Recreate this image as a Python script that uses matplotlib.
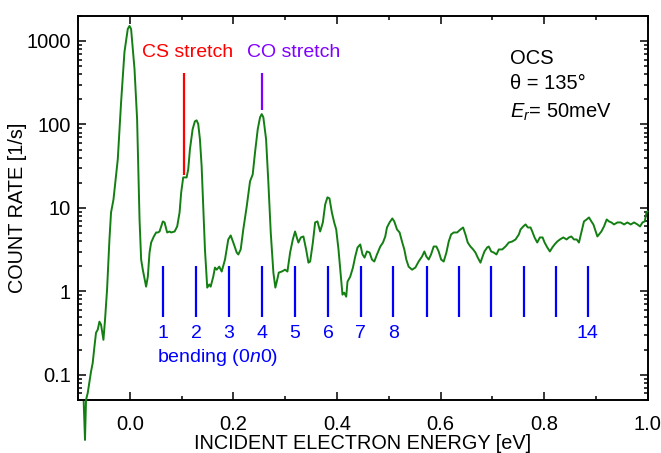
import matplotlib
matplotlib.use('Agg')
import matplotlib.pyplot as plt
import matplotlib.ticker as mticker
import numpy as np

plt.rcParams['font.family'] = ['Liberation Sans', 'DejaVu Sans']
plt.rcParams['mathtext.fontset'] = 'custom'
plt.rcParams['mathtext.rm'] = 'Liberation Sans'
plt.rcParams['mathtext.it'] = 'Liberation Sans:italic'

# spectrum: incident energy [eV], count rate [1/s]
energy = [
    -0.0890, -0.0865, -0.0845, -0.0812, -0.0779, -0.0749, -0.0716, -0.0683, -0.0652, -0.0619,
    -0.0586, -0.0555, -0.0509, -0.0478, -0.0439, -0.0393, -0.0362, -0.0315, -0.0232, -0.0168,
    -0.0103, -0.0039, -0.0006, 0.0025, 0.0091, 0.0141, 0.0188, 0.0219, 0.0251, 0.0315,
    0.0348, 0.0381, 0.0412, 0.0464, 0.0509, 0.0542, 0.0574, 0.0638, 0.0671, 0.0721,
    0.0768, 0.0799, 0.0865, 0.0915, 0.0961, 0.0992, 0.1031, 0.1097, 0.1128, 0.1161,
    0.1213, 0.1257, 0.1290, 0.1321, 0.1354, 0.1387, 0.1418, 0.1451, 0.1495, 0.1534,
    0.1561, 0.1611, 0.1644, 0.1677, 0.1727, 0.1774, 0.1838, 0.1901, 0.1948, 0.1998,
    0.2064, 0.2095, 0.2141, 0.2191, 0.2257, 0.2321, 0.2373, 0.2418, 0.2470, 0.2515,
    0.2547, 0.2578, 0.2631, 0.2675, 0.2721, 0.2772, 0.2810, 0.2838, 0.2876, 0.2934,
    0.2998, 0.3043, 0.3095, 0.3147, 0.3191, 0.3224, 0.3255, 0.3302, 0.3352, 0.3404,
    0.3449, 0.3482, 0.3534, 0.3578, 0.3623, 0.3675, 0.3727, 0.3772, 0.3816, 0.3855,
    0.3901, 0.3946, 0.3985, 0.4029, 0.4075, 0.4106, 0.4139, 0.4178, 0.4203, 0.4255,
    0.4308, 0.4352, 0.4397, 0.4449, 0.4493, 0.4532, 0.4578, 0.4629, 0.4675, 0.4720,
    0.4772, 0.4836, 0.4888, 0.4932, 0.4965, 0.5015, 0.5068, 0.5106, 0.5159, 0.5209,
    0.5255, 0.5300, 0.5338, 0.5383, 0.5449, 0.5513, 0.5576, 0.5642, 0.5687, 0.5725,
    0.5770, 0.5816, 0.5867, 0.5919, 0.5963, 0.6010, 0.6060, 0.6112, 0.6157, 0.6203,
    0.6253, 0.6319, 0.6383, 0.6435, 0.6480, 0.6524, 0.6576, 0.6629, 0.6673, 0.6718,
    0.6770, 0.6803, 0.6847, 0.6899, 0.6930, 0.6977, 0.7027, 0.7079, 0.7124, 0.7190,
    0.7253, 0.7317, 0.7383, 0.7447, 0.7511, 0.7544, 0.7596, 0.7640, 0.7685, 0.7737,
    0.7770, 0.7814, 0.7866, 0.7917, 0.7969, 0.8008, 0.8060, 0.8110, 0.8157, 0.8201,
    0.8253, 0.8304, 0.8369, 0.8433, 0.8478, 0.8524, 0.8575, 0.8627, 0.8671, 0.8718,
    0.8768, 0.8820, 0.8865, 0.8911, 0.8950, 0.8994, 0.9027, 0.9058, 0.9104, 0.9155,
    0.9207, 0.9251, 0.9298, 0.9348, 0.9414, 0.9478, 0.9542, 0.9607, 0.9671, 0.9735,
    0.9801, 0.9851, 0.9897, 0.9942, 0.9975, 0.9994,
]
count_rate = [
    0.0474, 0.0166, 0.0501, 0.0608, 0.0824, 0.109, 0.139, 0.217, 0.320, 0.348,
    0.434, 0.399, 0.263, 0.458, 1.05, 4.19, 8.83, 12.6, 38.3, 185,
    738, 1393, 1514, 1393, 461, 116, 7.28, 2.41, 1.82, 1.14,
    1.50, 2.92, 3.85, 4.55, 5.08, 5.08, 5.22, 6.89, 6.70, 5.08,
    5.22, 5.08, 5.22, 6.00, 8.83, 15.3, 23.2, 23.2, 29.0, 50.4,
    87.7, 109, 112, 101, 66.5, 31.5, 10.4, 3.18, 1.11, 1.21,
    1.14, 1.50, 1.93, 1.82, 1.98, 1.73, 2.41, 4.19, 4.68, 3.85,
    2.92, 2.77, 3.18, 5.52, 10.4, 20.8, 25.2, 46.4, 87.7, 122,
    133, 122, 66.5, 20.2, 5.08, 1.68, 1.11, 1.31, 1.68, 1.73,
    1.82, 1.73, 2.92, 4.19, 5.22, 4.43, 3.85, 4.43, 4.55, 3.18,
    2.21, 2.28, 3.85, 6.70, 6.89, 5.22, 6.70, 11.0, 13.4, 13.0,
    8.83, 6.70, 5.52, 3.18, 1.50, 0.914, 0.966, 0.865, 1.31, 1.50,
    1.93, 2.62, 3.36, 3.65, 2.77, 2.54, 3.01, 2.92, 2.41, 2.28,
    2.77, 3.45, 3.85, 4.55, 5.83, 6.70, 7.48, 6.89, 5.52, 5.08,
    3.96, 3.18, 2.41, 1.98, 1.82, 1.93, 2.28, 2.62, 3.01, 2.62,
    2.41, 2.77, 3.45, 3.45, 3.01, 2.41, 2.28, 2.92, 3.96, 4.81,
    5.08, 5.08, 5.52, 5.83, 4.81, 3.85, 3.45, 3.18, 2.92, 2.54,
    2.21, 2.54, 3.01, 3.36, 3.45, 3.01, 2.92, 2.77, 3.18, 3.18,
    3.45, 3.85, 3.96, 4.19, 4.81, 5.52, 6.00, 6.34, 5.83, 5.83,
    5.22, 4.43, 3.85, 4.43, 4.43, 3.85, 3.36, 3.01, 3.36, 3.65,
    3.96, 4.19, 4.43, 4.19, 4.43, 4.55, 4.19, 4.19, 3.85, 5.08,
    6.89, 7.28, 7.69, 6.89, 6.34, 5.22, 4.55, 4.81, 5.22, 6.00,
    7.28, 6.89, 6.70, 6.34, 6.70, 6.70, 6.34, 6.70, 6.34, 6.70,
    6.34, 6.00, 6.70, 6.89, 8.83, 9.08,
]

# bending progression (0n0)
bend_pos = [0.0638, 0.1277, 0.191, 0.255, 0.319, 0.383, 0.446, 0.509,
            0.573, 0.636, 0.698, 0.761, 0.822, 0.884]
bend_labels = ['1', '2', '3', '4', '5', '6', '7', '8', '', '', '', '', '', '14']

cs_pos = 0.1045
co_pos = 0.255

fig = plt.figure(figsize=(6.61, 4.53), dpi=100)
ax = fig.add_axes([0.118, 0.117, 0.862, 0.848])

ax.plot(energy, count_rate, color='#137f13', lw=1.4, clip_on=False, zorder=3)

ax.set_yscale('log')
ax.set_xlim(-0.1, 1.0)
ax.set_ylim(0.05, 2000)

# bending lines and labels
ax.vlines(bend_pos, 0.5, 2.0, color='#0000ff', lw=1.6)
for xp, lab in zip(bend_pos, bend_labels):
    ax.text(xp, 0.31, lab, color='#0000ff', fontsize=14, ha='center', va='center')
ax.text(0.052, 0.16, 'bending (0$n$0)', color='#0000ff', fontsize=14, ha='left', va='center')

# stretch markers
ax.vlines(cs_pos, 25, 410, color='#ff0000', lw=1.6)
ax.text(cs_pos + 0.007, 720, 'CS stretch', color='#ff0000', fontsize=14, ha='center', va='center')
ax.vlines(co_pos, 150, 410, color='#8000ff', lw=1.6)
ax.text(co_pos + 0.062, 720, 'CO stretch', color='#8000ff', fontsize=14, ha='center', va='center')

# conditions
ax.text(0.758, 0.89, 'OCS', transform=ax.transAxes, fontsize=14.5, va='center')
ax.text(0.758, 0.825, 'θ = 135°', transform=ax.transAxes, fontsize=14.5, va='center')
ax.text(0.758, 0.748, '$E_r$= 50meV', transform=ax.transAxes, fontsize=14.5, va='center')

ax.xaxis.set_major_locator(mticker.MultipleLocator(0.2))
ax.xaxis.set_minor_locator(mticker.MultipleLocator(0.1))
ax.xaxis.set_major_formatter(mticker.FormatStrFormatter('%.1f'))
ax.yaxis.set_major_locator(mticker.LogLocator(base=10, numticks=10))
ax.yaxis.set_minor_locator(mticker.LogLocator(base=10, subs=np.arange(2, 10), numticks=10))
ax.yaxis.set_major_formatter(mticker.FuncFormatter(lambda v, p: ('%g' % v)))
ax.yaxis.set_minor_formatter(mticker.NullFormatter())

ax.tick_params(which='both', direction='in', top=True, right=True, labelsize=14.5, width=1.1)
ax.tick_params(which='major', length=6)
ax.tick_params(axis='x', which='major', pad=11)
ax.tick_params(axis='y', which='major', pad=5)
ax.tick_params(which='minor', length=3)
for s in ax.spines.values():
    s.set_linewidth(1.4)

ax.set_xlabel('INCIDENT ELECTRON ENERGY [eV]', fontsize=14.3)
ax.set_ylabel('COUNT RATE [1/s]', fontsize=14.3)
ax.xaxis.set_label_coords(0.5, -0.088)
ax.yaxis.set_label_coords(-0.090, 0.5)

plt.savefig('out.png')
